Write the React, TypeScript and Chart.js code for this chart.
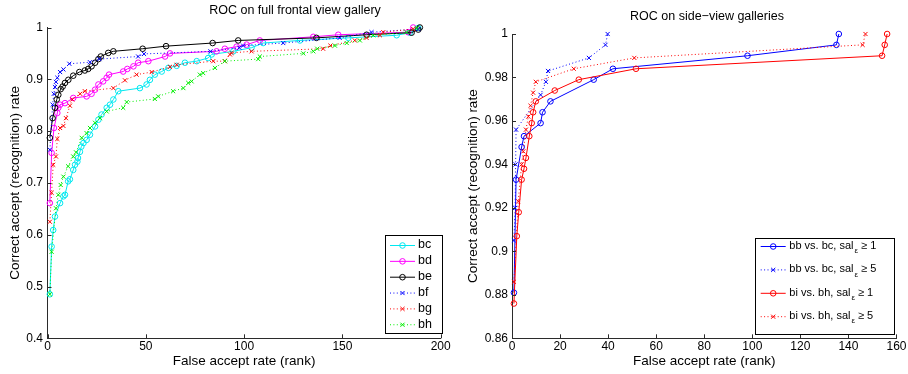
import React, { useEffect, useRef } from "react";
import { Chart, registerables } from "chart.js";
Chart.register(...registerables);

const FONT = '"Liberation Sans", Arial, Helvetica, sans-serif';
const AXIS_COLOR = "#2b2b2b";

// ---------- Left chart: ROC on full frontal view gallery ----------
const leftTitle = "ROC on full frontal view gallery";
const leftXTicks = [0, 50, 100, 150, 200];
const leftYTicks = [0.4, 0.5, 0.6, 0.7, 0.8, 0.9, 1];
const leftLabels = ["bc", "bd", "be", "bf", "bg", "bh"];

const bcX = [1.2, 2.1, 2.9, 3.8, 6.4, 8.1, 8.9, 10.5, 11.4, 13.1, 14.0, 15.2, 15.5, 16.5, 17.2, 18.3, 19.9, 21.6, 24.2, 25.9, 27.5, 30.1, 31.8, 33.5, 36.0, 47.0, 50.4, 52.1, 54.6, 58.1, 61.5, 65.7, 69.9, 75.9, 81.7, 83.5, 94.5, 103.8, 109.7, 128.4, 153.0, 177.6, 184.3, 188.6];
const bcY = [0.485, 0.577, 0.609, 0.635, 0.661, 0.674, 0.677, 0.703, 0.707, 0.725, 0.735, 0.741, 0.748, 0.760, 0.770, 0.777, 0.783, 0.793, 0.809, 0.822, 0.832, 0.845, 0.851, 0.861, 0.877, 0.883, 0.890, 0.899, 0.909, 0.915, 0.922, 0.926, 0.932, 0.935, 0.941, 0.948, 0.954, 0.961, 0.970, 0.975, 0.980, 0.985, 0.990, 0.999];

const bdX = [1.2, 2.1, 3.3, 5.0, 5.5, 6.4, 8.9, 13.1, 19.9, 22.4, 24.2, 25.9, 28.3, 30.1, 31.3, 38.5, 40.6, 43.7, 46.1, 51.3, 59.8, 62.3, 86.0, 90.2, 96.2, 101.3, 108.0, 135.2, 147.9, 183.4, 186.0];
const bdY = [0.661, 0.758, 0.806, 0.835, 0.845, 0.851, 0.854, 0.864, 0.867, 0.872, 0.880, 0.890, 0.896, 0.903, 0.909, 0.915, 0.920, 0.925, 0.932, 0.935, 0.944, 0.950, 0.954, 0.959, 0.963, 0.967, 0.975, 0.982, 0.986, 0.991, 1.0];

const beX = [1.2, 2.6, 3.8, 4.7, 5.5, 6.7, 7.7, 8.9, 10.6, 13.1, 16.2, 19.0, 20.7, 22.4, 24.2, 25.9, 27.1, 30.9, 33.5, 48.4, 60.3, 84.0, 97.0, 136.8, 162.3, 185.2, 188.6, 189.4];
const beY = [0.787, 0.825, 0.845, 0.861, 0.870, 0.881, 0.886, 0.893, 0.899, 0.907, 0.914, 0.917, 0.920, 0.925, 0.932, 0.939, 0.944, 0.951, 0.954, 0.959, 0.964, 0.970, 0.975, 0.980, 0.986, 0.990, 0.996, 1.0];

const bfX = [1.2, 2.6, 3.2, 3.8, 4.3, 5.0, 6.4, 8.1, 11.1, 21.6, 26.4, 46.1, 49.1, 82.9, 97.6, 99.5, 119.9, 148.6, 164.8, 188.6];
const bfY = [0.764, 0.851, 0.872, 0.885, 0.895, 0.903, 0.914, 0.919, 0.930, 0.933, 0.939, 0.944, 0.949, 0.954, 0.961, 0.965, 0.970, 0.980, 0.991, 0.997];

const bgX = [1.2, 2.1, 2.9, 4.3, 5.0, 6.4, 8.1, 9.4, 11.4, 12.6, 16.6, 19.0, 33.5, 39.4, 45.3, 53.0, 62.3, 65.7, 84.3, 90.2, 92.8, 93.6, 103.8, 140.2, 143.9, 156.3, 162.3, 169.1, 170.8, 186.0];
const bgY = [0.625, 0.681, 0.735, 0.751, 0.785, 0.806, 0.810, 0.825, 0.849, 0.861, 0.872, 0.877, 0.883, 0.898, 0.909, 0.914, 0.924, 0.928, 0.935, 0.935, 0.948, 0.951, 0.954, 0.959, 0.965, 0.975, 0.980, 0.985, 0.991, 0.997];

const bhX = [1.2, 2.1, 4.3, 5.5, 6.7, 8.1, 10.5, 13.1, 14.5, 17.4, 19.9, 21.6, 24.2, 26.7, 30.1, 38.5, 40.3, 54.6, 56.3, 63.9, 69.1, 71.6, 73.3, 77.5, 79.2, 85.2, 90.2, 107.2, 108.0, 130.1, 135.2, 137.2, 146.2, 152.2, 158.9, 165.7, 182.6, 187.8];
const bhY = [0.485, 0.567, 0.651, 0.677, 0.696, 0.712, 0.732, 0.751, 0.759, 0.787, 0.796, 0.806, 0.816, 0.825, 0.838, 0.845, 0.856, 0.862, 0.867, 0.877, 0.883, 0.893, 0.896, 0.909, 0.912, 0.922, 0.935, 0.939, 0.944, 0.950, 0.954, 0.959, 0.965, 0.970, 0.975, 0.985, 0.991, 0.999];

// ---------- Right chart: ROC on side-view galleries ----------
const rightTitle = "ROC on side\u2212view galleries";
const rightXTicks = [0, 20, 40, 60, 80, 100, 120, 140, 160];
const rightYTicks = [0.86, 0.88, 0.9, 0.92, 0.94, 0.96, 0.98, 1];
const rightLabelMain = ["bb vs. bc, sal", "bb vs. bc, sal", "bi vs. bh, sal", "bi vs. bh, sal"];
const rightLabelSub = ["\u03b5", "\u03b5", "\u03b5", "\u03b5"];
const rightLabelTail = ["\u2265 1", "\u2265 5", "\u2265 1", "\u2265 5"];

const bb1X = [0.8, 1.7, 4.0, 5.0, 11.9, 12.7, 16.0, 34.0, 42.0, 98.0, 135.0, 136.0];
const bb1Y = [0.881, 0.933, 0.948, 0.953, 0.959, 0.964, 0.969, 0.979, 0.984, 0.990, 0.995, 1.0];
const bb5X = [0.8, 1.3, 1.5, 1.7, 11.9, 14.1, 15.0, 32.0, 38.9, 39.8];
const bb5Y = [0.905, 0.920, 0.940, 0.956, 0.972, 0.978, 0.983, 0.989, 0.995, 1.0];
const bi1X = [0.8, 2.0, 2.8, 4.0, 5.0, 5.8, 7.2, 8.2, 8.8, 9.9, 17.8, 27.8, 51.6, 154.0, 155.1, 156.1];
const bi1Y = [0.876, 0.907, 0.918, 0.933, 0.938, 0.943, 0.953, 0.959, 0.964, 0.969, 0.974, 0.979, 0.984, 0.990, 0.995, 1.0];
const bi5X = [0.8, 2.6, 4.0, 4.7, 5.8, 6.8, 7.7, 8.8, 9.9, 25.7, 50.9, 145.9, 147.1];
const bi5Y = [0.886, 0.923, 0.940, 0.946, 0.956, 0.962, 0.967, 0.973, 0.978, 0.984, 0.989, 0.995, 1.0];

type Style = { color: string; marker: "o" | "x"; dotted: boolean };

const leftSeries: { xs: number[]; ys: number[]; style: Style }[] = [
  { xs: bcX, ys: bcY, style: { color: "#00e8f0", marker: "o", dotted: false } },
  { xs: bdX, ys: bdY, style: { color: "#ff00ff", marker: "o", dotted: false } },
  { xs: beX, ys: beY, style: { color: "#000000", marker: "o", dotted: false } },
  { xs: bfX, ys: bfY, style: { color: "#0000ff", marker: "x", dotted: true } },
  { xs: bgX, ys: bgY, style: { color: "#ff0000", marker: "x", dotted: true } },
  { xs: bhX, ys: bhY, style: { color: "#00ee00", marker: "x", dotted: true } },
];

const rightSeries: { xs: number[]; ys: number[]; style: Style }[] = [
  { xs: bb1X, ys: bb1Y, style: { color: "#0000ff", marker: "o", dotted: false } },
  { xs: bb5X, ys: bb5Y, style: { color: "#0000ff", marker: "x", dotted: true } },
  { xs: bi1X, ys: bi1Y, style: { color: "#ff0000", marker: "o", dotted: false } },
  { xs: bi5X, ys: bi5Y, style: { color: "#ff0000", marker: "x", dotted: true } },
];

const CIRCLE_R = 2.8;
const CROSS_R = 2.9;

function makeDatasets(series: { xs: number[]; ys: number[]; style: Style }[], labels: string[]) {
  const n = series.length;
  return series.map((s, i) => ({
    label: labels[i],
    data: s.xs.map((x, k) => ({ x, y: s.ys[k] })),
    showLine: true,
    borderColor: s.style.color,
    backgroundColor: "rgba(0,0,0,0)",
    borderWidth: 1,
    borderDash: s.style.dotted ? [1, 2.4] : [],
    pointStyle: s.style.marker === "o" ? "circle" : "crossRot",
    pointRadius: s.style.marker === "o" ? CIRCLE_R : CROSS_R,
    pointBorderWidth: 1,
    pointBorderColor: s.style.color,
    pointBackgroundColor: "rgba(0,0,0,0)",
    tension: 0,
    clip: false as any,
    order: n - i,
  }));
}

function drawMarker(ctx: CanvasRenderingContext2D, m: "o" | "x", x: number, y: number, color: string) {
  ctx.save();
  ctx.strokeStyle = color;
  ctx.lineWidth = 1;
  ctx.setLineDash([]);
  ctx.beginPath();
  if (m === "o") {
    ctx.arc(x, y, CIRCLE_R, 0, Math.PI * 2);
  } else {
    const d = CROSS_R * Math.SQRT1_2;
    ctx.moveTo(x - d, y - d);
    ctx.lineTo(x + d, y + d);
    ctx.moveTo(x + d, y - d);
    ctx.lineTo(x - d, y + d);
  }
  ctx.stroke();
  ctx.restore();
}

const decorPlugin = {
  id: "decor",
  afterDraw(chart: any, _args: any, opts: any) {
    const ctx: CanvasRenderingContext2D = chart.ctx;
    const area = chart.chartArea;
    const xs = chart.scales.x;
    const ys = chart.scales.y;
    ctx.save();
    // inward tick marks
    ctx.strokeStyle = AXIS_COLOR;
    ctx.lineWidth = 1;
    ctx.beginPath();
    xs.ticks.forEach((t: any) => {
      const px = Math.round(xs.getPixelForValue(t.value)) + 0.5;
      ctx.moveTo(px, area.bottom);
      ctx.lineTo(px, area.bottom - 4);
    });
    ys.ticks.forEach((t: any) => {
      const py = Math.round(ys.getPixelForValue(t.value)) + 0.5;
      ctx.moveTo(area.left, py);
      ctx.lineTo(area.left + 4, py);
    });
    ctx.stroke();

    // title
    ctx.fillStyle = "#000";
    ctx.font = `12.5px ${FONT}`;
    ctx.textAlign = "center";
    ctx.textBaseline = "middle";
    ctx.fillText(opts.title, opts.titleX, opts.titleY);

    // legend
    const lg = opts.legend;
    ctx.fillStyle = "#fff";
    ctx.fillRect(lg.x0, lg.y0, lg.x1 - lg.x0, lg.y1 - lg.y0);
    ctx.strokeStyle = "#000";
    ctx.lineWidth = 1;
    ctx.strokeRect(Math.round(lg.x0) + 0.5, Math.round(lg.y0) + 0.5, Math.round(lg.x1 - lg.x0), Math.round(lg.y1 - lg.y0));
    lg.items.forEach((it: any, i: number) => {
      const y = lg.firstY + i * lg.step;
      ctx.save();
      ctx.strokeStyle = it.style.color;
      ctx.lineWidth = 1;
      ctx.setLineDash(it.style.dotted ? [1, 2.4] : []);
      ctx.beginPath();
      ctx.moveTo(lg.lineX0, y + 0.5);
      ctx.lineTo(lg.lineX1, y + 0.5);
      ctx.stroke();
      ctx.restore();
      drawMarker(ctx, it.style.marker, (lg.lineX0 + lg.lineX1) / 2, y + 0.5, it.style.color);
      ctx.fillStyle = "#000";
      ctx.textAlign = "left";
      ctx.textBaseline = "middle";
      ctx.font = `${lg.fontSize}px ${FONT}`;
      let tx = lg.textX;
      ctx.fillText(it.text, tx, y);
      tx += ctx.measureText(it.text).width;
      if (it.sub) {
        ctx.font = `${Math.round(lg.fontSize * 0.75)}px ${FONT}`;
        ctx.fillText(it.sub, tx + 1, y + 5);
        tx += ctx.measureText(it.sub).width + 4;
        ctx.font = `${lg.fontSize}px ${FONT}`;
        ctx.fillText(it.tail, tx, y);
      }
    });
    ctx.restore();
  },
};

function buildConfig(p: {
  series: { xs: number[]; ys: number[]; style: Style }[];
  labels: string[];
  xMin: number; xMax: number; yMin: number; yMax: number;
  xTicks: number[]; yTicks: number[];
  yWidth: number; xHeight: number; padRight: number; padTop: number;
  yTitlePad: number; yTickPad: number;
  decor: any;
}) {
  const tickFont = { family: FONT, size: 12 };
  const labelFont = { family: FONT, size: 13.5 };
  return {
    type: "scatter" as const,
    data: { datasets: makeDatasets(p.series, p.labels) },
    plugins: [decorPlugin],
    options: {
      animation: false,
      responsive: false,
      maintainAspectRatio: false,
      devicePixelRatio: 1,
      layout: { padding: { left: 0, right: p.padRight, top: p.padTop, bottom: 0 } },
      plugins: {
        legend: { display: false },
        tooltip: { enabled: false },
        title: { display: false },
        decor: p.decor,
      },
      scales: {
        x: {
          type: "linear",
          min: p.xMin,
          max: p.xMax,
          afterBuildTicks: (s: any) => { s.ticks = p.xTicks.map((v) => ({ value: v })); },
          afterFit: (s: any) => { s.height = p.xHeight; },
          ticks: { font: tickFont, color: "#000", padding: 1.5, maxRotation: 0, autoSkip: false, callback: (v: any) => String(v) },
          grid: { display: false, drawTicks: false },
          border: { display: true, color: AXIS_COLOR, width: 1 },
          title: { display: true, text: "False accept rate (rank)", font: labelFont, color: "#000", padding: { top: 0, bottom: 4.4 } },
        },
        y: {
          type: "linear",
          min: p.yMin,
          max: p.yMax,
          afterBuildTicks: (s: any) => { s.ticks = p.yTicks.map((v) => ({ value: v })); },
          afterFit: (s: any) => { s.width = p.yWidth; },
          ticks: { font: tickFont, color: "#000", padding: p.yTickPad, autoSkip: false, callback: (v: any) => String(v) },
          grid: { display: false, drawTicks: false },
          border: { display: true, color: AXIS_COLOR, width: 1 },
          title: { display: true, text: "Correct accept (recognition) rate", font: labelFont, color: "#000", padding: { top: p.yTitlePad, bottom: 0 } },
        },
      },
    },
  };
}

function ChartCanvas({ config, width, height }: { config: any; width: number; height: number }) {
  const ref = useRef<HTMLCanvasElement | null>(null);
  useEffect(() => {
    if (!ref.current) return;
    const chart = new Chart(ref.current, config);
    return () => chart.destroy();
  }, [config]);
  return <canvas ref={ref} width={width} height={height} style={{ width, height, display: "block" }} />;
}

const leftConfig = buildConfig({
  series: leftSeries,
  labels: leftLabels,
  xMin: 0, xMax: 200, yMin: 0.4, yMax: 1,
  xTicks: leftXTicks, yTicks: leftYTicks,
  yWidth: 47.5, xHeight: 35.7, padRight: 13.3, padTop: 27.5,
  yTitlePad: 6.9, yTickPad: 4.5,
  decor: {
    title: leftTitle,
    titleX: 295,
    titleY: 11,
    legend: {
      x0: 385, y0: 235, x1: 441.5, y1: 333,
      lineX0: 390, lineX1: 415, textX: 418, firstY: 245, step: 15.85, fontSize: 12.5,
      items: leftSeries.map((s, i) => ({ text: leftLabels[i], style: s.style })),
    },
  },
});

const rightConfig = buildConfig({
  series: rightSeries,
  labels: rightLabelMain.map((m, i) => `${m}${rightLabelSub[i]} ${rightLabelTail[i]}`),
  xMin: 0, xMax: 160, yMin: 0.86, yMax: 1,
  xTicks: rightXTicks, yTicks: rightYTicks,
  yWidth: 58, xHeight: 35.7, padRight: 10, padTop: 34,
  yTitlePad: 10.9, yTickPad: 4,
  decor: {
    title: rightTitle,
    titleX: 253,
    titleY: 17,
    legend: {
      x0: 301, y0: 238, x1: 440, y1: 334,
      lineX0: 306.7, lineX1: 331.7, textX: 335.3, firstY: 246, step: 23.4, fontSize: 11,
      items: rightSeries.map((s, i) => ({ text: rightLabelMain[i], sub: rightLabelSub[i], tail: rightLabelTail[i], style: s.style })),
    },
  },
});

export default function App() {
  return (
    <div style={{ position: "absolute", left: 0, top: 0, width: 908, height: 374, background: "#fff" }}>
      <div style={{ position: "absolute", left: 0, top: 0 }}>
        <ChartCanvas config={leftConfig} width={454} height={374} />
      </div>
      <div style={{ position: "absolute", left: 454, top: 0 }}>
        <ChartCanvas config={rightConfig} width={454} height={374} />
      </div>
    </div>
  );
}
